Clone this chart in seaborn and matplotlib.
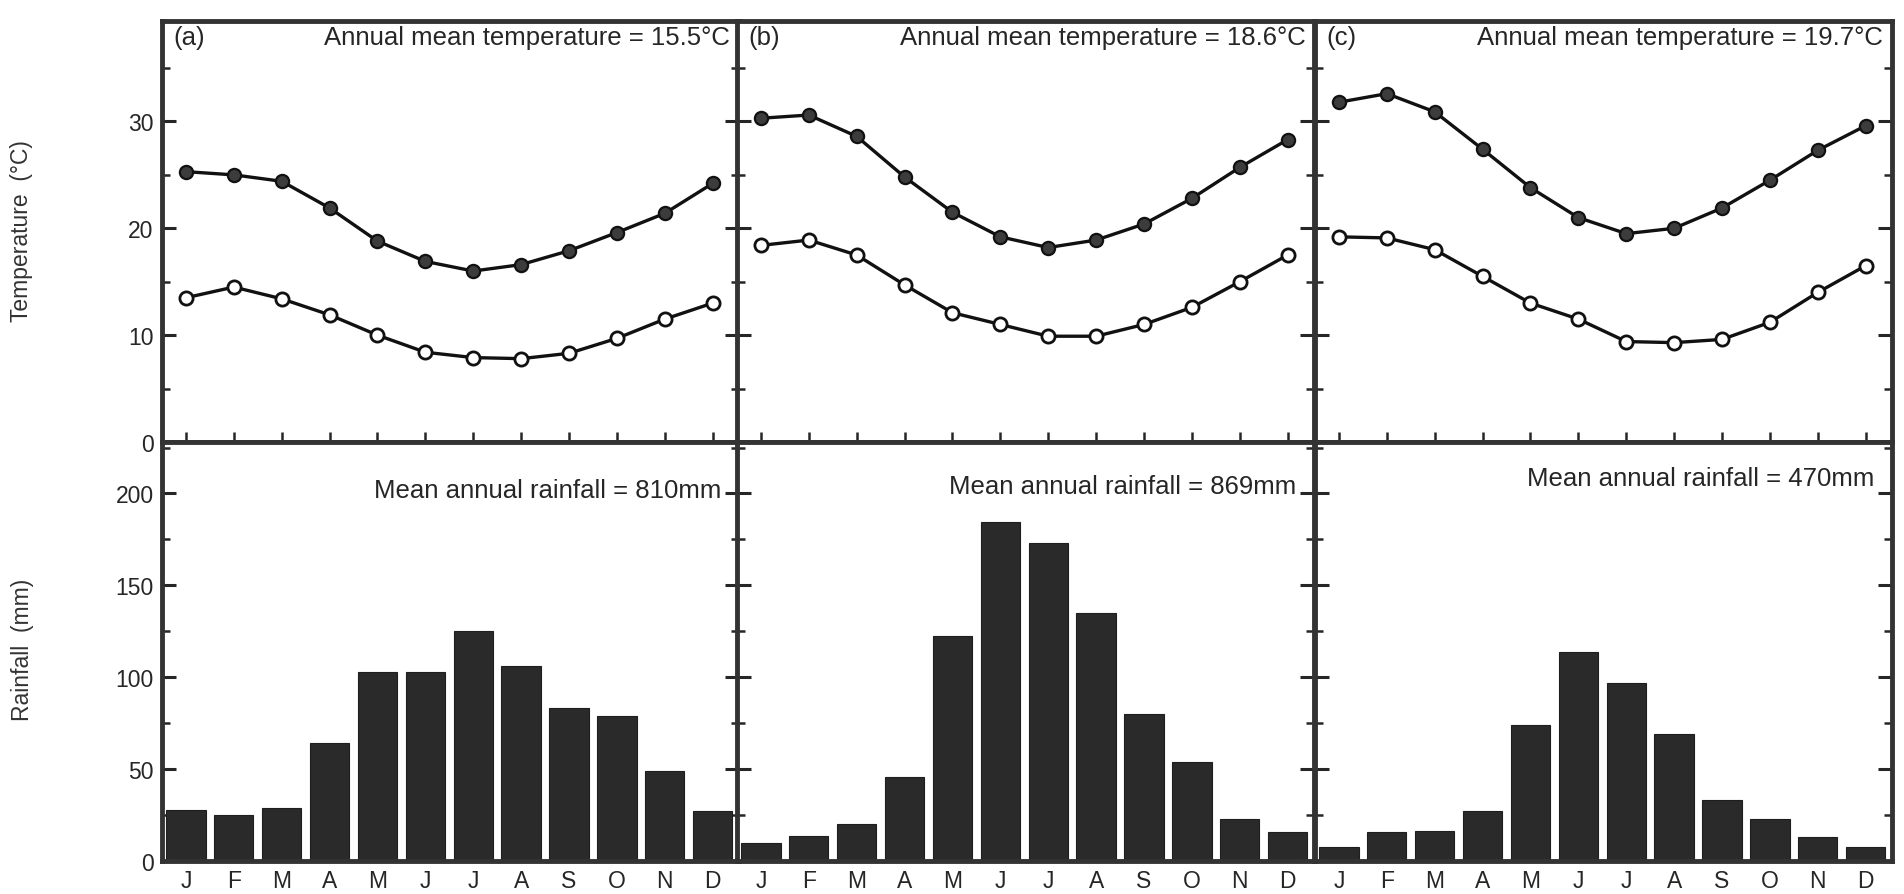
import matplotlib
matplotlib.use("Agg")
import matplotlib.pyplot as plt
import seaborn as sns
import pandas as pd
from matplotlib.ticker import MultipleLocator

# month labels and panel info
months = ["J", "F", "M", "A", "M", "J", "J", "A", "S", "O", "N", "D"]
panel_tags = ["(a)", "(b)", "(c)"]
annual_temp = [15.5, 18.6, 19.7]
annual_rain = [810, 869, 470]

# mean monthly maximum (filled) and minimum (open) temperature, deg C
tmax_a = [25.3, 25.0, 24.4, 21.9, 18.8, 16.9, 16.0, 16.6, 17.9, 19.6, 21.4, 24.2]
tmin_a = [13.5, 14.5, 13.4, 11.9, 10.0, 8.4, 7.9, 7.8, 8.3, 9.7, 11.5, 13.0]
tmax_b = [30.3, 30.6, 28.6, 24.8, 21.5, 19.2, 18.2, 18.9, 20.4, 22.8, 25.7, 28.3]
tmin_b = [18.4, 18.9, 17.5, 14.7, 12.1, 11.0, 9.9, 9.9, 11.0, 12.6, 15.0, 17.5]
tmax_c = [31.8, 32.6, 30.9, 27.4, 23.8, 21.0, 19.5, 20.0, 21.9, 24.5, 27.3, 29.6]
tmin_c = [19.2, 19.1, 18.0, 15.5, 13.0, 11.5, 9.4, 9.3, 9.6, 11.2, 14.0, 16.5]

# mean monthly rainfall, mm
rain_a = [28, 25, 29, 64, 103, 103, 125, 106, 83, 79, 49, 27]
rain_b = [10, 13.5, 20, 45.5, 122.5, 184.5, 173, 135, 80, 54, 23, 16]
rain_c = [7.5, 16, 16.5, 27, 74, 114, 97, 69, 33, 23, 13, 7.5]

tmax_all = [tmax_a, tmax_b, tmax_c]
tmin_all = [tmin_a, tmin_b, tmin_c]
rain_all = [rain_a, rain_b, rain_c]

sns.set_theme(style="ticks")
plt.rcParams["font.family"] = ["Liberation Sans", "DejaVu Sans"]

INK = "#262626"
SPINE = "#333333"

fig = plt.figure(figsize=(19.04, 8.95), dpi=100)

W, H = 1904.0, 895.0
lefts = [162, 737, 1315]
width = 577
top_rect = (22, 443)
bot_rect = (443, 862)

rain_text_y = [0.885, 0.895, 0.915]

for i in range(3):
    x = list(range(12))

    # ---- temperature panel
    ax = fig.add_axes([lefts[i] / W, 1 - top_rect[1] / H, width / W,
                       (top_rect[1] - top_rect[0]) / H])
    df = pd.DataFrame({"m": x, "tmax": tmax_all[i], "tmin": tmin_all[i]})
    sns.lineplot(data=df, x="m", y="tmax", ax=ax, color="#111111", lw=2.4,
                 marker="o", markersize=9.5, markerfacecolor="#3c3c3c",
                 markeredgecolor="#111111", markeredgewidth=1.6)
    sns.lineplot(data=df, x="m", y="tmin", ax=ax, color="#111111", lw=2.4,
                 marker="o", markersize=9.5, markerfacecolor="white",
                 markeredgecolor="#111111", markeredgewidth=2.0)
    ax.set_ylim(0, 39.4)
    ax.set_xlim(-0.5, 11.55)
    ax.yaxis.set_major_locator(MultipleLocator(10))
    ax.yaxis.set_minor_locator(MultipleLocator(5))
    ax.set_xticks(x)
    ax.tick_params(axis="x", direction="in", length=7, width=1.8,
                   color=INK, labelbottom=False, bottom=True, top=False)
    ax.tick_params(axis="y", which="major", direction="in", length=10,
                   width=2.2, color=INK, left=True, right=True,
                   labelsize=16.5, labelcolor=INK, pad=6)
    ax.tick_params(axis="y", which="minor", direction="in", length=6,
                   width=1.8, color=INK, left=True, right=True)
    if i > 0:
        ax.tick_params(axis="y", labelleft=False)
    ax.set_xlabel("")
    ax.set_ylabel("")
    for s in ax.spines.values():
        s.set_visible(True)
        s.set_linewidth(3.5)
        s.set_color(SPINE)
    ax.text(0.02, 0.99, panel_tags[i], transform=ax.transAxes, ha="left",
            va="top", fontsize=18.5, color=INK)
    ax.text(0.985, 0.99, f"Annual mean temperature = {annual_temp[i]}°C",
            transform=ax.transAxes, ha="right", va="top", fontsize=18.5,
            color=INK)

    # ---- rainfall panel
    ax2 = fig.add_axes([lefts[i] / W, 1 - bot_rect[1] / H, width / W,
                        (bot_rect[1] - bot_rect[0]) / H])
    dfr = pd.DataFrame({"m": x, "rain": rain_all[i]})
    sns.barplot(data=dfr, x="m", y="rain", ax=ax2, color="#2a2a2a",
                saturation=1, width=0.82, edgecolor="#1e1e1e", linewidth=0.8)
    ax2.set_ylim(0, 228)
    ax2.set_xlim(-0.5, 11.55)
    ax2.yaxis.set_major_locator(MultipleLocator(50))
    ax2.yaxis.set_minor_locator(MultipleLocator(25))
    ax2.set_xticks(x)
    ax2.set_xticklabels(months)
    ax2.tick_params(axis="x", length=0, labelsize=16.5, labelcolor=INK, pad=6)
    ax2.tick_params(axis="y", which="major", direction="in", length=10,
                    width=2.2, color=INK, left=True, right=True,
                    labelsize=16.5, labelcolor=INK, pad=6)
    ax2.tick_params(axis="y", which="minor", direction="in", length=6,
                    width=1.8, color=INK, left=True, right=True)
    if i > 0:
        ax2.tick_params(axis="y", labelleft=False)
    ax2.set_xlabel("")
    ax2.set_ylabel("")
    for s in ax2.spines.values():
        s.set_visible(True)
        s.set_linewidth(3.5)
        s.set_color(SPINE)
    ax2.text(0.97, rain_text_y[i], f"Mean annual rainfall = {annual_rain[i]}mm",
             transform=ax2.transAxes, ha="right", va="center", fontsize=18.5,
             color=INK)

fig.text(22 / W, 0.742, "Temperature  (°C)", rotation=90, ha="center",
         va="center", fontsize=16.5, color="#333333")
fig.text(22 / W, 0.274, "Rainfall  (mm)", rotation=90, ha="center",
         va="center", fontsize=16.5, color="#333333")

plt.savefig("out.png", dpi=100)
plt.close()
